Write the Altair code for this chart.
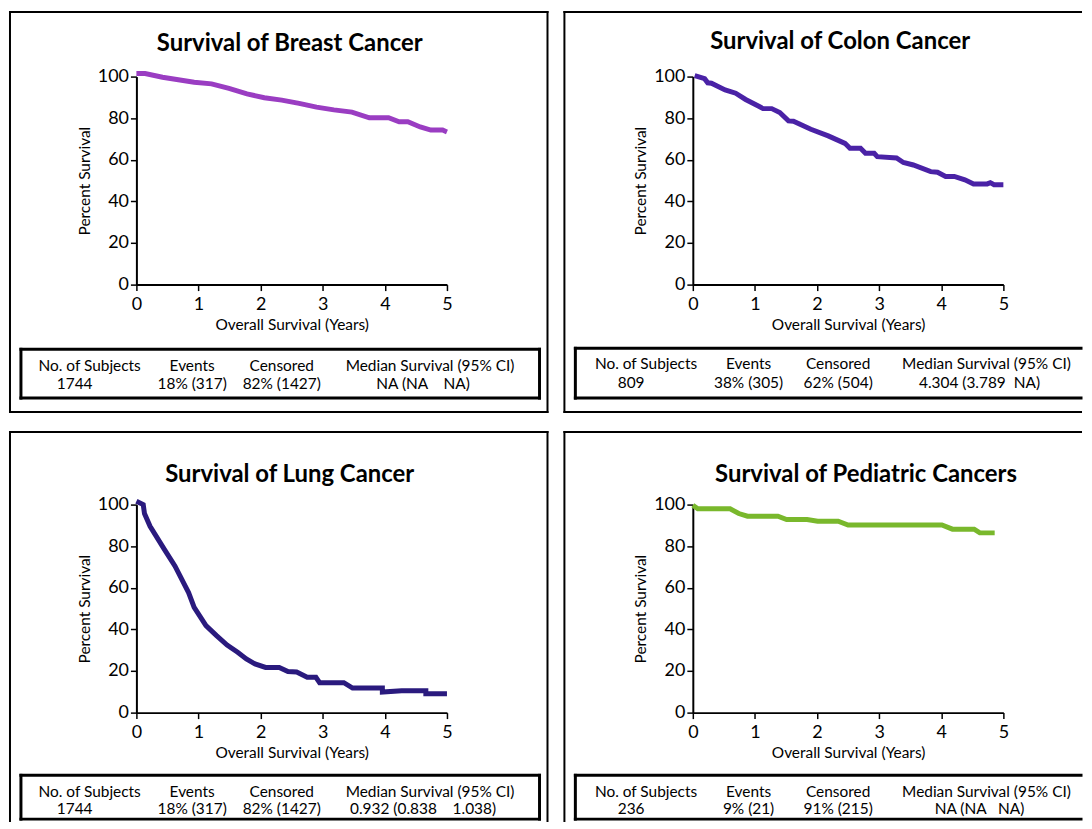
import altair as alt
import pandas as pd

# ---------------- data ----------------
breast_years = [0.0, 0.14, 0.42, 0.93, 1.21, 1.49, 1.78, 2.06, 2.34, 2.62, 2.90, 3.18, 3.47, 3.75, 4.06, 4.23, 4.37, 4.57, 4.74, 4.93, 5.0]
breast_surv = [101.5, 101.5, 99.7, 97.3, 96.5, 94.3, 91.7, 89.8, 88.7, 87.1, 85.3, 84.0, 82.9, 80.2, 80.2, 78.3, 78.3, 75.8, 74.3, 74.3, 73.4]

colon_years = [0.03, 0.19, 0.24, 0.30, 0.52, 0.69, 0.85, 1.07, 1.13, 1.27, 1.40, 1.54, 1.62, 1.90, 2.18, 2.45, 2.53, 2.70, 2.78, 2.92, 2.97, 3.28, 3.39, 3.55, 3.83, 3.94, 4.07, 4.21, 4.38, 4.52, 4.74, 4.79, 4.85, 5.0]
colon_surv = [100.5, 99.0, 97.0, 96.8, 93.6, 92.0, 89.0, 85.6, 84.6, 84.6, 82.7, 78.7, 78.5, 74.7, 71.5, 67.9, 65.5, 65.5, 63.1, 63.1, 61.5, 60.9, 58.7, 57.5, 54.3, 54.0, 52.0, 52.0, 50.4, 48.4, 48.4, 49.0, 48.0, 48.0]

lung_years = [0.0, 0.11, 0.13, 0.22, 0.45, 0.62, 0.84, 0.93, 1.12, 1.29, 1.46, 1.63, 1.77, 1.91, 2.08, 2.30, 2.44, 2.58, 2.75, 2.89, 2.95, 3.34, 3.48, 3.96, 3.96, 4.27, 4.66, 4.66, 5.0]
lung_surv = [101.6, 100.0, 95.7, 89.6, 78.5, 70.5, 57.7, 50.6, 41.8, 37.0, 32.5, 29.0, 25.8, 23.4, 21.7, 21.7, 19.8, 19.5, 17.0, 17.0, 14.4, 14.4, 11.8, 11.8, 9.9, 10.5, 10.5, 9.1, 9.1]

pediatric_years = [0.0, 0.08, 0.60, 0.74, 0.88, 1.37, 1.51, 1.84, 2.01, 2.34, 2.50, 4.01, 4.18, 4.53, 4.62, 4.86]
pediatric_surv = [99.7, 98.0, 98.0, 95.7, 94.4, 94.4, 92.8, 92.8, 92.0, 92.0, 90.2, 90.2, 88.2, 88.2, 86.4, 86.4]

panel_titles = ["Survival of Breast Cancer", "Survival of Colon Cancer",
                "Survival of Lung Cancer", "Survival of Pediatric Cancers"]
panel_colors = ["#9a3dc2", "#4a22a6", "#2a1a7e", "#79b82c"]

x_ticks = [0, 1, 2, 3, 4, 5]
y_ticks = [0, 20, 40, 60, 80, 100]

table_headers = ["No. of Subjects", "Events", "Censored", "Median Survival (95% CI)"]
breast_table = ["1744", "18% (317)", "82% (1427)", "NA (NA    NA)"]
colon_table = ["809", "38% (305)", "62% (504)", "4.304 (3.789  NA)"]
lung_table = ["1744", "18% (317)", "82% (1427)", "0.932 (0.838    1.038)"]
pediatric_table = ["236", "9% (21)", "91% (215)", "NA (NA   NA)"]

# ---------------- layout (pixels relative to each plot area) ----------------
W, H = 312, 209
FONT = "Lato"
TABLE_SIZE = 15.5
header_x = [-47, 56, 146, 295]
value_x = [-62, 56, 146, 288]


def one():
    return alt.Data(values=[{"k": 0}])


def seg(x1, y1, x2, y2, w):
    return alt.Chart(one()).mark_rule(color="black", strokeWidth=w, strokeCap="square").encode(
        x=alt.value(x1), y=alt.value(y1), x2=alt.value(x2), y2=alt.value(y2))


def txt(s, x, y, size, weight="normal"):
    s = s.replace("  ", "\u00a0\u00a0")
    return alt.Chart(one()).mark_text(font=FONT, fontSize=size, fontWeight=weight, color="black",
                                      align="center", baseline="middle").encode(
        x=alt.value(x), y=alt.value(y), text=alt.value(s))


def panel(years, surv, title, color, table, frame, tbox, open_right, open_bottom,
          row_y, title_y, title_x):
    left, top, right, bottom = frame
    tb_left, tb_top, tb_right, tb_bottom = tbox
    df = pd.DataFrame({"t": years, "s": surv})
    line = alt.Chart(df).mark_line(color=color, strokeWidth=5, clip=False).encode(
        x=alt.X("t:Q", scale=alt.Scale(domain=[0, 5], nice=False),
                axis=alt.Axis(values=x_ticks, title="Overall Survival (Years)", labelPadding=5,
                              titlePadding=4, format="d", labelFlush=False)),
        y=alt.Y("s:Q", scale=alt.Scale(domain=[0, 100], nice=False),
                axis=alt.Axis(values=y_ticks, title="Percent Survival", labelPadding=2,
                              titlePadding=5, format="d", labelFlush=False)),
    )
    layers = []
    # outer frame
    layers.append(seg(left, top, right, top, 2))
    layers.append(seg(left, top, left, bottom, 2))
    if not open_right:
        layers.append(seg(right, top, right, bottom, 2))
    if not open_bottom:
        layers.append(seg(left, bottom, right, bottom, 2))
    # table box
    layers.append(seg(tb_left, tb_top, tb_right, tb_top, 3))
    layers.append(seg(tb_left, tb_top, tb_left, tb_bottom, 3))
    layers.append(seg(tb_left, tb_bottom, tb_right, tb_bottom, 3))
    if not open_right:
        layers.append(seg(tb_right, tb_top, tb_right, tb_bottom, 3))
    for i in range(4):
        layers.append(txt(table_headers[i], header_x[i], row_y[0], TABLE_SIZE))
        layers.append(txt(table[i], value_x[i], row_y[1], TABLE_SIZE))
    layers.append(txt(title, title_x, title_y, 24, "bold"))
    layers.append(line)
    return alt.layer(*layers).properties(width=W, height=H)


p1 = panel(breast_years, breast_surv, panel_titles[0], panel_colors[0], breast_table,
           (-127, -65, 413, 337), (-116, 274, 405, 323), False, False, (291, 309), -33, 154)
p2 = panel(colon_years, colon_surv, panel_titles[1], panel_colors[1], colon_table,
           (-129, -65, 390, 337), (-118, 273, 390, 323), True, False, (289, 308), -35, 148)
p3 = panel(lung_years, lung_surv, panel_titles[2], panel_colors[2], lung_table,
           (-127, -73, 413, 318), (-116, 272, 405, 316), False, True, (289, 306), -30, 154)
p4 = panel(pediatric_years, pediatric_surv, panel_titles[3], panel_colors[3], pediatric_table,
           (-129, -73, 390, 318), (-118, 272, 390, 316), True, True, (289, 306), -30, 174)

row1 = alt.hconcat(p1, p2, spacing=13)
row2 = alt.hconcat(p3, p4, spacing=13)
chart = alt.vconcat(row1, row2, spacing=16).properties(
    padding={"left": 0, "top": 0, "right": 0, "bottom": 0}
).configure_view(stroke=None).configure_axis(
    labelFont=FONT, labelFontSize=18, labelColor="black",
    titleFont=FONT, titleFontSize=15.5, titleFontWeight="normal", titleColor="black",
    domainColor="black", domainWidth=2, tickColor="black", tickWidth=1.5, tickSize=6,
    grid=False,
)

chart.save("out.html", embed_options={"renderer": "svg", "actions": False})
